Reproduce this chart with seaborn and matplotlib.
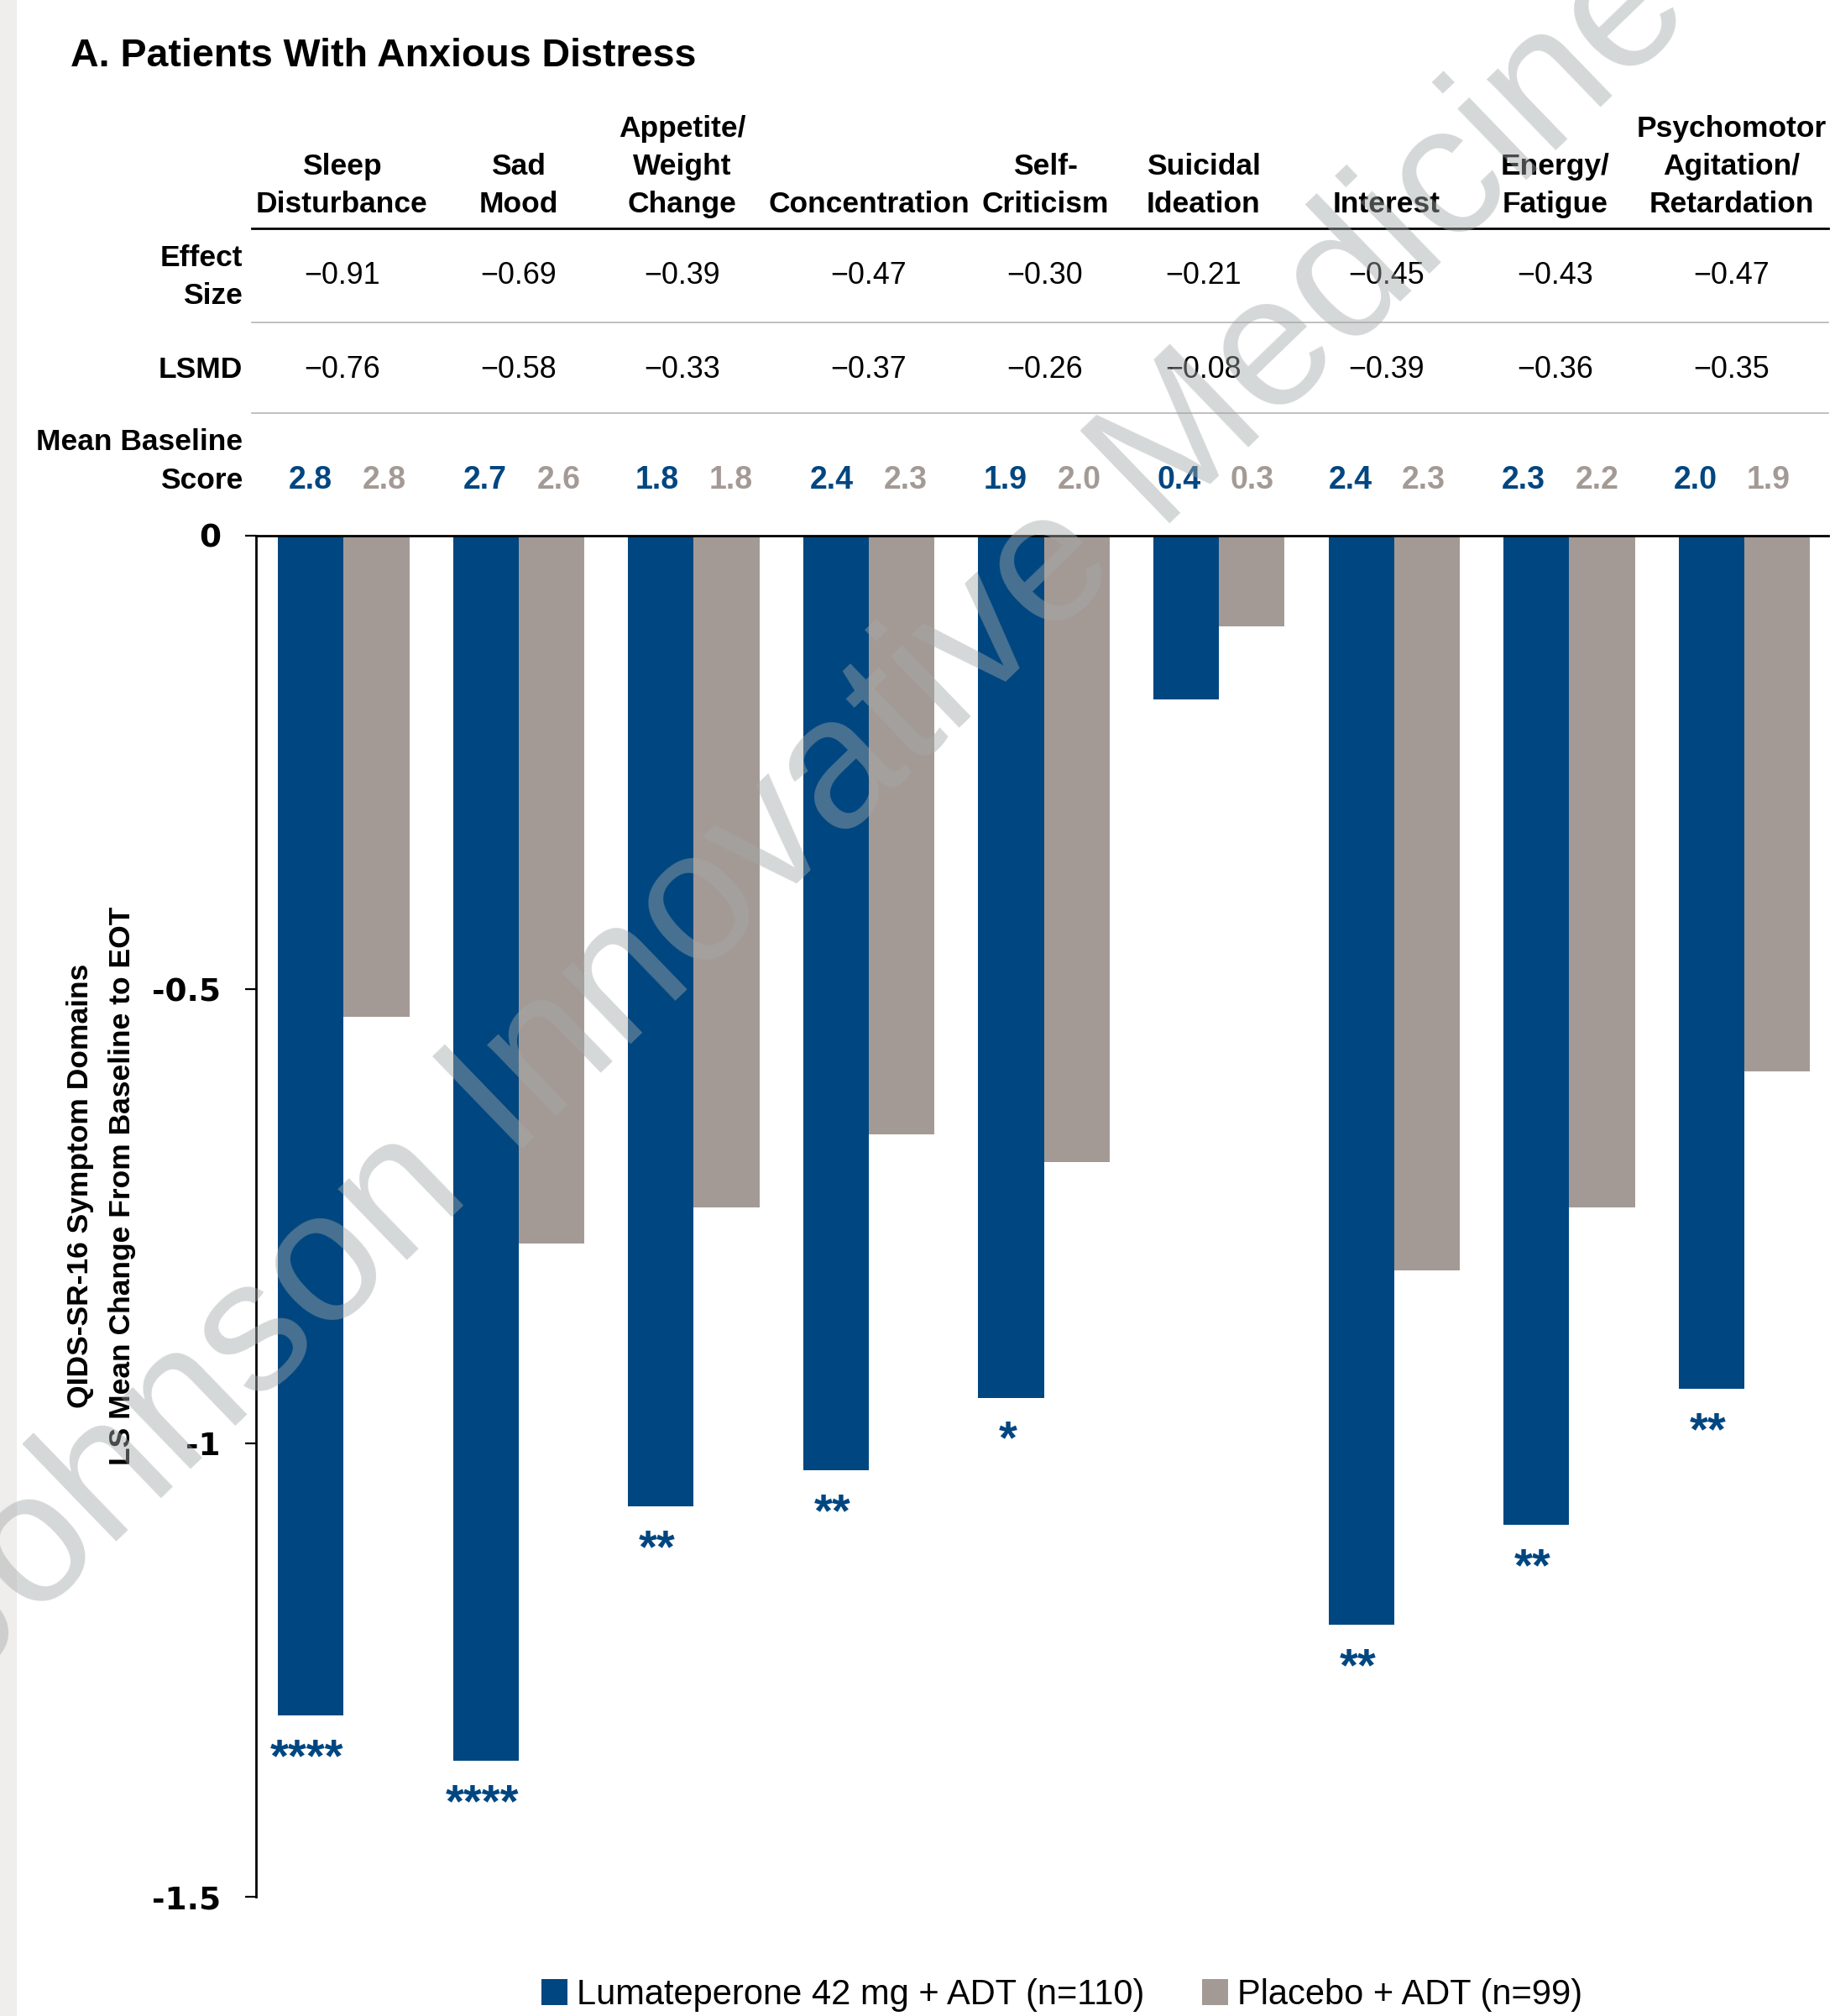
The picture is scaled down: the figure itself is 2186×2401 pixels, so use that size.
import matplotlib
matplotlib.use("Agg")
import numpy as np
import pandas as pd
import matplotlib.pyplot as plt
from matplotlib.lines import Line2D
from matplotlib.patches import Rectangle
from matplotlib.transforms import blended_transform_factory
import seaborn as sns

# ---- data -------------------------------------------------------------
domains = [
    "Sleep\nDisturbance", "Sad\nMood", "Appetite/\nWeight\nChange",
    "Concentration", "Self-\nCriticism", "Suicidal\nIdeation", "Interest",
    "Energy/\nFatigue", "Psychomotor\nAgitation/\nRetardation",
]
groups = ["Lumateperone 42 mg + ADT (n=110)", "Placebo + ADT (n=99)"]

luma_change = [-1.30, -1.35, -1.07, -1.03, -0.95, -0.18, -1.20, -1.09, -0.94]
placebo_change = [-0.53, -0.78, -0.74, -0.66, -0.69, -0.10, -0.81, -0.74, -0.59]

effect_size = [-0.91, -0.69, -0.39, -0.47, -0.30, -0.21, -0.45, -0.43, -0.47]
lsmd = [-0.76, -0.58, -0.33, -0.37, -0.26, -0.08, -0.39, -0.36, -0.35]

baseline_luma = [2.8, 2.7, 1.8, 2.4, 1.9, 0.4, 2.4, 2.3, 2.0]
baseline_placebo = [2.8, 2.6, 1.8, 2.3, 2.0, 0.3, 2.3, 2.2, 1.9]

significance = ["****", "****", "**", "**", "*", "", "**", "**", "**"]

ytick_values = [0, -0.5, -1, -1.5]
ytick_labels = ["0", "-0.5", "-1", "-1.5"]

# ---- style / layout ---------------------------------------------------
BLUE = "#004680"
GREY = "#a49a95"
W, H = 2186, 2401

plt.rcParams["font.family"] = ["Liberation Sans", "DejaVu Sans"]
plt.rcParams["axes.unicode_minus"] = False


def fx(px):
    return px / W


def fy(px):
    return 1 - px / H


def fmt_minus(v):
    return ("\u2212" if v < 0 else "") + f"{abs(v):.2f}"


fig = plt.figure(figsize=(W / 100, H / 100), dpi=100)
fig.patch.set_facecolor("white")

# light strip along the left edge
fig.add_artist(Rectangle((0, 0), fx(20), 1, transform=fig.transFigure,
                         facecolor="#efeeec", edgecolor="none", zorder=-5))

ax = fig.add_axes([fx(305), fy(2259), fx(2178) - fx(305), fy(638) - fy(2259)])

df = pd.DataFrame({
    "domain": domains * 2,
    "group": [groups[0]] * len(domains) + [groups[1]] * len(domains),
    "change": luma_change + placebo_change,
})

sns.barplot(data=df, x="domain", y="change", hue="group", order=domains,
            hue_order=groups, palette=[BLUE, GREY], width=0.75,
            saturation=1, errorbar=None, ax=ax)

ax.set_xlim(-0.5, 8.48)
ax.set_ylim(-1.5, 0)
ax.set_xticks([])
ax.set_xlabel("")
ax.set_ylabel("")
ax.set_yticks(ytick_values)
ax.set_yticklabels(ytick_labels, fontfamily="DejaVu Sans", fontweight="bold",
                   fontsize=27)
ax.tick_params(axis="y", length=9.4, width=1.6, pad=21, color="black",
               direction="out")
for side in ("right", "bottom"):
    ax.spines[side].set_visible(False)
for side in ("top", "left"):
    ax.spines[side].set_visible(True)
    ax.spines[side].set_linewidth(2.0)
    ax.spines[side].set_color("black")
ax.set_facecolor("white")

# significance stars under the lumateperone bars
for bar, stars in zip(ax.containers[0], significance):
    if not stars:
        continue
    xc = bar.get_x() + bar.get_width() / 2
    yb = bar.get_y() + bar.get_height()
    ax.annotate(stars, xy=(xc, yb), xytext=(-3, -47.5),
                textcoords="offset points", ha="center", va="baseline",
                color=BLUE, fontsize=40.5, fontweight="bold",
                annotation_clip=False)

# ---- table above the bars ---------------------------------------------
tr = blended_transform_factory(ax.transData, fig.transFigure)
col_shift = [-0.01, 0.0, -0.066, 0.0, 0.007, -0.088, -0.044, -0.081, -0.073]
score_mid = [0.02, 0.02, 0.0, 0.0, -0.01, -0.02, -0.04, -0.05, -0.07]
score_gap = 0.21

HEAD_FS = 25.5
for i, name in enumerate(domains):
    xc = i + col_shift[i]
    for k, line in enumerate(reversed(name.split("\n"))):
        ax.text(xc, fy(253 - 45 * k), line, transform=tr, ha="center",
                va="baseline", fontsize=HEAD_FS, fontweight="bold",
                color="black")
    ax.text(xc, fy(338), fmt_minus(effect_size[i]), transform=tr,
            ha="center", va="baseline", fontsize=25.8, color="black")
    ax.text(xc, fy(450), fmt_minus(lsmd[i]), transform=tr,
            ha="center", va="baseline", fontsize=25.8, color="black")
    xm = i + score_mid[i]
    ax.text(xm - score_gap, fy(582), f"{baseline_luma[i]:.1f}", transform=tr,
            ha="center", va="baseline", fontsize=27, fontweight="bold",
            color=BLUE)
    ax.text(xm + score_gap, fy(582), f"{baseline_placebo[i]:.1f}",
            transform=tr, ha="center", va="baseline", fontsize=27,
            fontweight="bold", color=GREY)

for text, ypx in [("Effect", 317), ("Size", 362), ("LSMD", 450),
                  ("Mean Baseline", 536), ("Score", 582)]:
    fig.text(fx(289), fy(ypx), text, ha="right", va="baseline",
             fontsize=HEAD_FS, fontweight="bold", color="black")

fig.add_artist(Line2D([fx(300), fx(2178)], [fy(272), fy(272)],
                      transform=fig.transFigure, color="black", lw=2.0))
for ypx in (384, 492):
    fig.add_artist(Line2D([fx(300), fx(2178)], [fy(ypx), fy(ypx)],
                          transform=fig.transFigure, color="#b5b5b5", lw=1.2))

# ---- titles -----------------------------------------------------------
fig.text(fx(84), fy(79), "A. Patients With Anxious Distress", ha="left",
         va="baseline", fontsize=33.5, fontweight="bold", color="black")
fig.text(fx(96), fy(1412), "QIDS-SR-16 Symptom Domains", rotation=90,
         ha="center", va="center", fontsize=HEAD_FS, fontweight="bold")
fig.text(fx(146), fy(1412), "LS Mean Change From Baseline to EOT",
         rotation=90, ha="center", va="center", fontsize=HEAD_FS,
         fontweight="bold")

# ---- legend -----------------------------------------------------------
handles, labels = ax.get_legend_handles_labels()
if ax.get_legend() is not None:
    ax.get_legend().remove()
fig.legend(handles, labels, loc="center left",
           bbox_to_anchor=(fx(645), fy(2376)), frameon=False, fontsize=30,
           ncol=2, handlelength=0.75, handleheight=0.75, handletextpad=0.26,
           columnspacing=1.65, borderpad=0, borderaxespad=0)

# ---- watermark --------------------------------------------------------
fig.text(fx(950), fy(972), "Johnson Innovative Medicine", rotation=44,
         rotation_mode="anchor", ha="center", va="center", fontsize=160,
         color="#a3a8a8", alpha=0.45, zorder=20)

fig.savefig("out.png", dpi=100)
